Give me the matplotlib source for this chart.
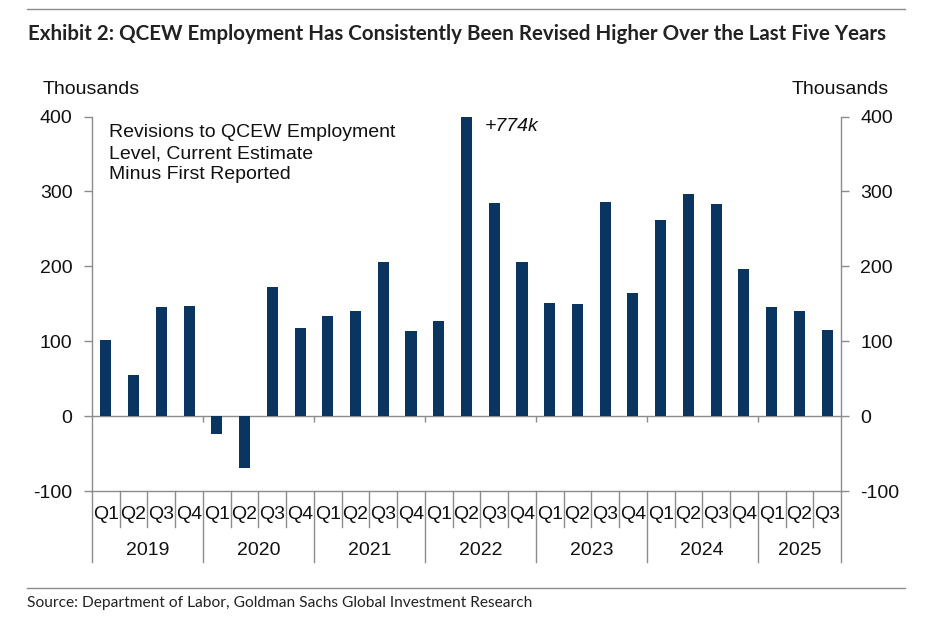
import matplotlib
matplotlib.use("Agg")
import matplotlib.pyplot as plt
import matplotlib.transforms as mtransforms
from matplotlib.lines import Line2D
import numpy as np

# revisions to QCEW employment level, thousands (current estimate minus first reported)
years = ['2019', '2020', '2021', '2022', '2023', '2024', '2025']
quarters_per_year = [4, 4, 4, 4, 4, 4, 3]
revisions = [102, 55, 145, 147,
             -24, -69, 173, 118,
             133, 140, 206, 114,
             127, 774, 284, 206,
             151, 150, 286, 165,
             262, 297, 283, 197,
             146, 140, 115]
q_labels = ['Q%d' % (i + 1) for n in quarters_per_year for i in range(n)]
y_ticks = [-100, 0, 100, 200, 300, 400]

bar_color = '#0b3561'
line_gray = '#8c8c8c'
txt_color = '#111111'
base_font = 'Liberation Sans'
fs = 14

plt.rcParams['font.family'] = [base_font, 'DejaVu Sans']

fig = plt.figure(figsize=(9.39, 6.23), dpi=100)
W, H = 939.0, 623.0
ax = fig.add_axes([92 / W, 1 - 491 / H, 749 / W, 374.5 / H])

x = np.arange(len(revisions))
ax.bar(x, revisions, width=0.4, color=bar_color, zorder=2)
ax.set_xlim(-0.5, len(revisions) - 0.5)
ax.set_ylim(-100, 400)

# spines
ax.spines['top'].set_visible(False)
for side in ['left', 'right', 'bottom']:
    ax.spines[side].set_color(line_gray)
    ax.spines[side].set_linewidth(1.0)

ax.axhline(0, color=line_gray, lw=1.0, zorder=1)

# y ticks on both sides
ax.set_yticks(y_ticks)
ax.set_yticklabels([str(v) for v in y_ticks])
ax.tick_params(axis='y', which='both', left=True, right=True, labelleft=True,
               labelright=True, direction='out', length=6, width=1,
               color=line_gray, labelsize=fs, labelcolor=txt_color, pad=8)

# category axis: drawn by hand as two label rows with separators
ax.set_xticks([])
trans = mtransforms.blended_transform_factory(ax.transData, ax.transAxes)
q_y, yr_y = -0.0615, -0.158
q_depth, yr_depth = -0.096, -0.19

for xi, lab in zip(x, q_labels):
    ax.text(xi, q_y, lab, transform=trans, ha='center', va='center',
            fontsize=fs, color=txt_color)

bounds = np.cumsum([0] + quarters_per_year) - 0.5
for i in range(len(revisions) + 1):
    xb = i - 0.5
    depth = yr_depth if xb in bounds else q_depth
    ax.plot([xb, xb], [0, depth], transform=trans, color=line_gray, lw=1.0,
            clip_on=False)

for k, yr in enumerate(years):
    mid = (bounds[k] + bounds[k + 1]) / 2
    ax.text(mid, yr_y, yr, transform=trans, ha='center', va='center',
            fontsize=fs, color=txt_color)

# small ticks under the zero line at year boundaries
ax.vlines(bounds[1:-1], -8, 0, color=line_gray, lw=1.0, zorder=1)

# annotations
ax.text(0.0227, 0.980, 'Revisions to QCEW Employment\nLevel, Current Estimate\nMinus First Reported',
        transform=ax.transAxes, ha='left', va='top', fontsize=fs,
        color=txt_color, linespacing=1.32)
ax.annotate('+774k', xy=(13, 400), xytext=(13.65, 386), ha='left', va='center',
            fontsize=fs, style='italic', color=txt_color)

fig.text(43 / W, 1 - 89 / H, 'Thousands', ha='left', va='center', fontsize=fs,
         color=txt_color)
fig.text(889 / W, 1 - 89 / H, 'Thousands', ha='right', va='center', fontsize=fs,
         color=txt_color)

# header / footer
fig.add_artist(Line2D([27 / W, 905 / W], [1 - 9 / H] * 2, color=line_gray, lw=1.0))
fig.add_artist(Line2D([27 / W, 905 / W], [1 - 588 / H] * 2, color=line_gray, lw=1.0))
fig.text(28 / W, 1 - 34 / H,
         'Exhibit 2: QCEW Employment Has Consistently Been Revised Higher Over the Last Five Years',
         ha='left', va='center', fontsize=14.8, fontweight='bold', family='Lato',
         color='#222222')
fig.text(27 / W, 1 - 603 / H,
         'Source: Department of Labor, Goldman Sachs Global Investment Research',
         ha='left', va='center', fontsize=11.2, family='Lato', color='#222222')

fig.savefig('out.png', dpi=100)
